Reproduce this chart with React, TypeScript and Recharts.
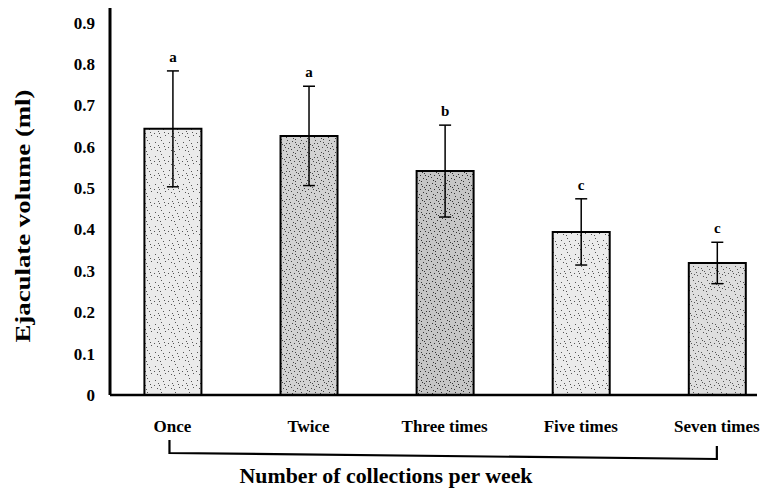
import { BarChart, Bar, XAxis, YAxis, ErrorBar, LabelList, Cell } from 'recharts';

const CATEGORIES = ['Once', 'Twice', 'Three times', 'Five times', 'Seven times'];
const POSITIONS = [0, 1, 2, 3, 4];
const MEANS = [0.643, 0.626, 0.541, 0.394, 0.319];
const ERRORS = [0.14, 0.12, 0.111, 0.08, 0.05];
const LETTERS = ['a', 'a', 'b', 'c', 'c'];
const Y_TICKS = [0, 0.1, 0.2, 0.3, 0.4, 0.5, 0.6, 0.7, 0.8, 0.9];

const X_MIN = -0.459;
const X_MAX = 4.295;
const SERIF = '"Liberation Serif", "DejaVu Serif", serif';

// per-bar stipple pattern
const BAR_FILLS = ['url(#speckLight)', 'url(#speckDense)', 'url(#speckDark)', 'url(#speckLight)', 'url(#speckMid)'];

const SPECKS = [
  [1, 2], [5, 7], [9, 3], [3, 10], [7, 0], [11, 9], [4, 5], [10, 6],
  [0, 7], [6, 11], [8, 8], [2, 4], [12, 1], [13, 12], [6, 3], [1, 13],
];

const data = POSITIONS.map((pos, i) => ({
  pos,
  name: CATEGORIES[i],
  mean: MEANS[i],
  err: ERRORS[i],
  letter: LETTERS[i],
}));

function Speckle({ id, bg, count, color }: { id: string; bg: string; count: number; color: string }) {
  return (
    <pattern id={id} width={14} height={14} patternUnits="userSpaceOnUse">
      <rect width={14} height={14} fill={bg} />
      {SPECKS.slice(0, count).map(([x, y], k) => (
        <rect key={k} x={x} y={y} width={1} height={1} fill={color} />
      ))}
    </pattern>
  );
}

function LetterLabel(props: any) {
  const { x, y, width, height, index, value } = props;
  const pxPerUnit = height / MEANS[index];
  const errTop = y - ERRORS[index] * pxPerUnit;
  return (
    <text
      x={x + width / 2}
      y={errTop - 9}
      textAnchor="middle"
      fontFamily={SERIF}
      fontSize={15}
      fontWeight="bold"
      fill="#000"
    >
      {value}
    </text>
  );
}

function CategoryTick({ x, y, payload }: any) {
  return (
    <text x={x} y={y + 35} textAnchor="middle" fontFamily={SERIF} fontSize={17} fontWeight="bold" fill="#000">
      {CATEGORIES[payload.value]}
    </text>
  );
}

function BracketAndTitle({ viewBox }: any) {
  const { x, y, width } = viewBox;
  const px = (v: number) => x + ((v - X_MIN) / (X_MAX - X_MIN)) * width;
  const left = px(0) - 3;
  const right = px(4);
  return (
    <g>
      <polyline
        points={`${left},${y + 45} ${left},${y + 58} ${right},${y + 64} ${right},${y + 51}`}
        fill="none"
        stroke="#000"
        strokeWidth={2.2}
      />
      <text
        x={x + 276}
        y={y + 88}
        textAnchor="middle"
        fontFamily={SERIF}
        fontSize={21}
        fontWeight="bold"
        fill="#000"
        textLength={293}
        lengthAdjust="spacingAndGlyphs"
      >
        Number of collections per week
      </text>
    </g>
  );
}

function VolumeLabel() {
  return (
    <text
      x={0}
      y={0}
      transform="translate(30, 216) rotate(-90)"
      textAnchor="middle"
      fontFamily={SERIF}
      fontSize={20}
      fontWeight="bold"
      fill="#000"
      textLength={253}
      lengthAdjust="spacingAndGlyphs"
    >
      Ejaculate volume (ml)
    </text>
  );
}

export default function App() {
  return (
    <div style={{ position: 'absolute', left: 0, top: 0, background: '#fff' }}>
      <BarChart width={760} height={492} data={data} margin={{ top: 8, right: 3, bottom: 0, left: 0 }}>
        <defs>
          <Speckle id="speckLight" bg="#ebebeb" count={10} color="#555" />
          <Speckle id="speckMid" bg="#dedede" count={13} color="#555" />
          <Speckle id="speckDense" bg="#d2d2d2" count={16} color="#444" />
          <Speckle id="speckDark" bg="#c6c6c6" count={16} color="#333" />
        </defs>
        <XAxis
          type="number"
          dataKey="pos"
          domain={[X_MIN, X_MAX]}
          ticks={POSITIONS}
          height={97}
          tickLine={false}
          tickSize={0}
          tick={<CategoryTick />}
          axisLine={{ stroke: '#000', strokeWidth: 2.5 }}
          label={<BracketAndTitle />}
        />
        <YAxis
          type="number"
          domain={[0, 0.935]}
          ticks={Y_TICKS}
          width={110}
          tickLine={false}
          tickSize={0}
          tickMargin={15}
          tickFormatter={(v: number) => (v === 0 ? '0' : v.toFixed(1))}
          tick={{ fontFamily: SERIF, fontSize: 17, fontWeight: 'bold', fill: '#000' }}
          axisLine={{ stroke: '#000', strokeWidth: 3 }}
          label={<VolumeLabel />}
        />
        <Bar dataKey="mean" barSize={57} stroke="#000" strokeWidth={2} isAnimationActive={false}>
          {data.map((d, i) => (
            <Cell key={d.name} fill={BAR_FILLS[i]} />
          ))}
          <ErrorBar dataKey="err" width={6} stroke="#000" strokeWidth={1.5} direction="y" />
          <LabelList dataKey="letter" content={<LetterLabel />} />
        </Bar>
      </BarChart>
    </div>
  );
}
